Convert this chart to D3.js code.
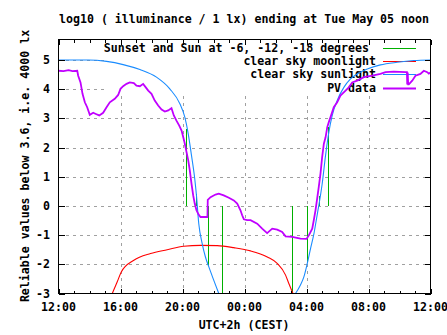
<!DOCTYPE html>
<html><head><meta charset="utf-8">
<script src="https://cdn.jsdelivr.net/npm/d3@7"></script>
<style>
body{margin:0;background:#fff;}
svg{display:block;}
text{font-family:"DejaVu Sans Mono",monospace;font-weight:bold;font-size:11.6px;fill:#000;}
</style></head>
<body>
<svg id="chart" width="447" height="335"></svg>
<script>
// ---- data (hours after 12:00 noon) ----
const titleText = "log10 ( illuminance / 1 lx) ending at Tue May 05 noon";
const yLabelText = "Reliable values below 3.6, i.e. 4000 lx";
const xLabelText = "UTC+2h (CEST)";
const xTickHours = [0, 4, 8, 12, 16, 20, 24];
const xTickLabels = ["12:00", "16:00", "20:00", "00:00", "04:00", "08:00", "12:00"];
const yTicks = [-3, -2, -1, 0, 1, 2, 3, 4, 5];
const legendNames = ["Sunset and Sun at -6, -12, -18 degrees ", "clear sky moonlight", "clear sky sunlight", "PV data"];

const sunsetTimes = [8.23, 8.90, 9.63, 10.54, 15.07, 16.02, 16.79, 17.39];
const sunsetTops  = [2.65, 0.42, -2.07, -3.0, -3.0, -1.97, 0.35, 2.70];

const moonTimes  = [3.47, 3.79, 4.05, 4.86, 5.94, 7.01, 8.08, 9.16, 10.24, 11.31, 12.39, 13.47, 14.11, 14.65, 14.86, 15.08, 15.13];
const moonValues = [-3.0, -2.60, -2.26, -1.86, -1.63, -1.50, -1.38, -1.35, -1.36, -1.43, -1.54, -1.75, -1.97, -2.37, -2.66, -2.94, -3.0];

const sunTimes  = [0, 1.92, 3.10, 4.17, 5.25, 6.32, 7.18, 7.83, 8.15, 8.37, 8.58, 8.79, 8.90, 9.05, 9.27, 9.48, 9.70, 10.02, 10.34,
                   12.8,
                   15.29, 15.61, 15.83, 16.05, 16.26, 16.48, 16.70, 16.79, 17.01, 17.23, 17.44, 17.66, 17.98, 18.41, 18.84, 19.27, 19.92, 20.77, 21.85, 22.92, 24];
const sunValues = [5.0, 5.0, 4.95, 4.84, 4.67, 4.41, 4.01, 3.50, 3.04, 2.47, 1.73, 0.93, 0.36, -0.61, -1.29, -1.75, -2.09, -2.55, -3.0,
                   null,
                   -3.0, -2.71, -2.43, -1.97, -1.46, -0.95, -0.27, 0.0, 0.75, 1.73, 2.52, 3.10, 3.61, 4.06, 4.35, 4.52, 4.69, 4.83, 4.92, 4.98, 5.0];

const pvTimes = [0, 0.32, 0.65, 0.90, 1.21, 1.27, 1.42, 1.55, 1.70, 1.85, 2.02, 2.24, 2.41, 2.63, 2.88, 3.10, 3.31, 3.63, 3.85, 4.00,
  4.17, 4.39, 4.60, 4.86, 5.03, 5.25, 5.46, 5.63, 5.79, 6.00, 6.21, 6.43, 6.65, 6.86, 7.08, 7.29, 7.44, 7.61, 7.79, 7.94,
  8.05, 8.15, 8.26, 8.37, 8.47, 8.58, 8.69, 8.79, 8.90, 9.03, 9.16, 9.61, 9.63, 9.81, 10.13, 10.34, 10.66, 10.99, 11.31, 11.53,
  11.74, 11.85, 11.96, 12.17, 12.39, 12.82, 13.14, 13.46, 13.79, 14.11, 14.43, 14.65, 15.08, 15.61, 16.00, 16.15, 16.37, 16.47, 16.58, 16.69,
  16.79, 16.90, 17.01, 17.12, 17.23, 17.34, 17.44, 17.55, 17.76, 17.98, 18.19, 18.52, 18.73, 18.95, 19.27, 19.70, 20.24, 20.77, 21.10, 21.63,
  22.39, 22.48, 22.50, 22.53, 22.56, 22.60, 22.82, 23.03, 23.35, 23.57, 23.79, 23.89, 24.0];
const pvValues = [4.63, 4.62, 4.65, 4.62, 4.63, 4.46, 4.23, 3.84, 3.55, 3.38, 3.12, 3.19, 3.15, 3.10, 3.19, 3.38, 3.55, 3.67, 3.80, 4.01,
  4.10, 4.18, 4.23, 4.21, 4.12, 4.10, 4.18, 4.06, 3.95, 3.84, 3.61, 3.44, 3.30, 3.23, 3.27, 3.35, 3.10, 2.92, 2.75, 2.58,
  2.35, 2.13, 1.84, 1.56, 1.22, 0.76, 0.36, 0.08, -0.15, -0.29, -0.38, -0.38, 0.21, 0.30, 0.39, 0.42, 0.36, 0.28, 0.19, 0.08,
  -0.15, -0.32, -0.46, -0.49, -0.49, -0.61, -0.78, -0.93, -0.78, -0.81, -0.89, -1.04, -1.06, -1.12, -1.13, -1.01, -0.78, -0.49, -0.15, 0.26,
  0.64, 1.10, 1.67, 2.13, 2.35, 2.70, 2.87, 3.04, 3.38, 3.55, 3.78, 3.95, 4.06, 4.23, 4.29, 4.41, 4.46, 4.52, 4.58, 4.60,
  4.58, 4.58, 4.16, 4.57, 4.16, 4.16, 4.29, 4.46, 4.52, 4.63, 4.58, 4.53, 4.57];

// ---- layout ----
const L = 58.5, R = 430.5, T = 39.5, B = 293.5;
const svg = d3.select("#chart");
const x = d3.scaleLinear().domain([0, 24]).range([L, R]);
const y = d3.scaleLinear().domain([-3, 5.7]).range([B, T]);

const C = {green: "#00b000", red: "#ff0000", blue: "#1a8cff", purple: "#c000ff", grid: "#a0a0a0"};

// grid
const grid = svg.append("g").attr("shape-rendering", "crispEdges");
grid.selectAll(".gx").data(xTickHours.slice(1, -1)).join("line")
  .attr("x1", d => Math.round(x(d)) + 0.5).attr("x2", d => Math.round(x(d)) + 0.5)
  .attr("y1", T).attr("y2", B)
  .attr("stroke", C.grid).attr("stroke-dasharray", "3,4");
grid.selectAll(".gy").data(yTicks.slice(1)).join("line")
  .attr("y1", d => Math.round(y(d)) + 0.5).attr("y2", d => Math.round(y(d)) + 0.5)
  .attr("x1", L).attr("x2", R)
  .attr("stroke", C.grid).attr("stroke-dasharray", "3,4");

// key background (opaque)
svg.append("rect").attr("x", 104).attr("y", 40).attr("width", 326).attr("height", 52).attr("fill", "#fff");

// legend text & samples
const legendColors = [C.green, C.red, C.blue, C.purple];
const legendWidths = [1, 1, 1, 2];
const lg = svg.append("g");
legendNames.forEach((name, i) => {
  const cy = 48 + i * 13.2;
  lg.append("text").attr("x", 376).attr("y", cy + 4).attr("text-anchor", "end")
    .style("white-space", "pre").text(name);
  lg.append("line").attr("x1", 383).attr("x2", 416).attr("y1", Math.round(cy) + 0.5).attr("y2", Math.round(cy) + 0.5)
    .attr("stroke", legendColors[i]).attr("stroke-width", legendWidths[i]);
});

// clip
svg.append("clipPath").attr("id", "clip").append("rect")
  .attr("x", L).attr("y", T).attr("width", R - L).attr("height", B - T);
const plot = svg.append("g").attr("clip-path", "url(#clip)");

// sunset / sun elevation markers
plot.selectAll(".sun").data(sunsetTimes).join("line")
  .attr("x1", d => Math.round(x(d)) + 0.5).attr("x2", d => Math.round(x(d)) + 0.5)
  .attr("y1", y(0)).attr("y2", (d, i) => y(sunsetTops[i]))
  .attr("stroke", C.green).attr("stroke-width", 1.2).attr("shape-rendering", "crispEdges");

const lineGen = d3.line().defined(d => d[1] !== null).x(d => x(d[0])).y(d => y(d[1]));

plot.append("path").datum(moonTimes.map((t, i) => [t, moonValues[i]]))
  .attr("d", lineGen.curve(d3.curveMonotoneX)).attr("fill", "none").attr("stroke", C.red).attr("stroke-width", 1.1);

plot.append("path").datum(sunTimes.map((t, i) => [t, sunValues[i]]))
  .attr("d", lineGen.curve(d3.curveMonotoneX)).attr("fill", "none").attr("stroke", C.blue).attr("stroke-width", 1.1);

plot.append("path").datum(pvTimes.map((t, i) => [t, pvValues[i]]))
  .attr("d", lineGen.curve(d3.curveLinear)).attr("fill", "none").attr("stroke", C.purple).attr("stroke-width", 1.8)
  .attr("stroke-linejoin", "miter");

// axes frame & ticks
const ax = svg.append("g").attr("shape-rendering", "crispEdges");
ax.append("rect").attr("x", L).attr("y", T).attr("width", R - L).attr("height", B - T)
  .attr("fill", "none").attr("stroke", "#000").attr("stroke-width", 1.3);
const minorHours = d3.range(0, 25, 1);
ax.selectAll(".tb").data(minorHours).join("line")
  .attr("x1", d => Math.round(x(d)) + 0.5).attr("x2", d => Math.round(x(d)) + 0.5)
  .attr("y1", B).attr("y2", d => B - (d % 4 === 0 ? 5 : 3)).attr("stroke", "#000");
ax.selectAll(".tt").data(minorHours).join("line")
  .attr("x1", d => Math.round(x(d)) + 0.5).attr("x2", d => Math.round(x(d)) + 0.5)
  .attr("y1", T).attr("y2", d => T + (d % 4 === 0 ? 5 : 3)).attr("stroke", "#000");
ax.selectAll(".tl").data(yTicks).join("line")
  .attr("y1", d => Math.round(y(d)) + 0.5).attr("y2", d => Math.round(y(d)) + 0.5)
  .attr("x1", L).attr("x2", L + 6).attr("stroke", "#000");
ax.selectAll(".tr").data(yTicks).join("line")
  .attr("y1", d => Math.round(y(d)) + 0.5).attr("y2", d => Math.round(y(d)) + 0.5)
  .attr("x1", R).attr("x2", R - 6).attr("stroke", "#000");

// tick labels
svg.selectAll(".xl").data(xTickHours).join("text")
  .attr("x", d => x(d)).attr("y", 311).attr("text-anchor", "middle")
  .text((d, i) => xTickLabels[i]);
svg.selectAll(".yl").data(yTicks).join("text")
  .attr("x", 50).attr("y", d => y(d) + 4).attr("text-anchor", "end")
  .text(d => String(d));

// titles
svg.append("text").attr("x", 244).attr("y", 23).attr("text-anchor", "middle").text(titleText);
svg.append("text").attr("x", 244).attr("y", 329).attr("text-anchor", "middle").text(xLabelText);
svg.append("text").attr("transform", "translate(29,166) rotate(-90)").attr("text-anchor", "middle").text(yLabelText);
</script>
</body></html>
